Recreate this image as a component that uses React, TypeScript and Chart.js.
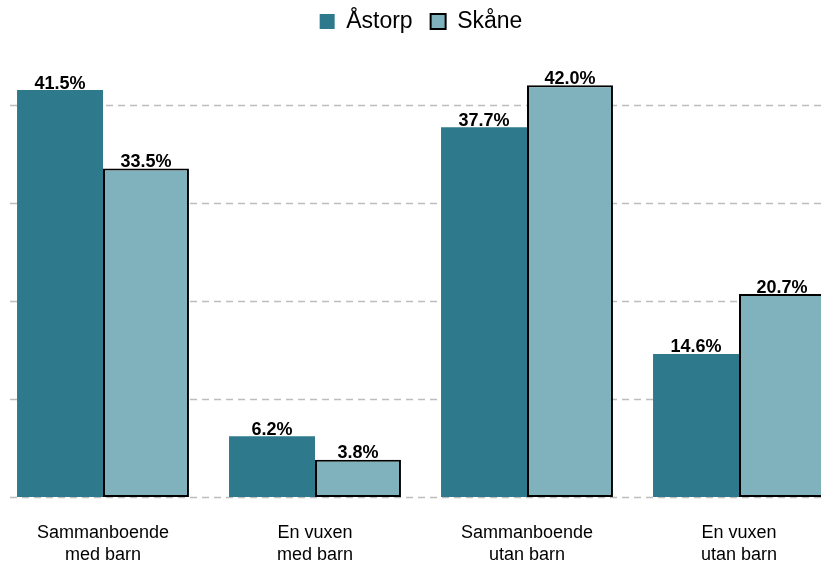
import React, { useEffect, useRef } from "react";
import { Chart, registerables } from "chart.js";

Chart.register(...registerables);

const categories: string[][] = [
  ["Sammanboende", "med barn"],
  ["En vuxen", "med barn"],
  ["Sammanboende", "utan barn"],
  ["En vuxen", "utan barn"],
];
const astorp = [41.5, 6.2, 37.7, 14.6];
const skane = [33.5, 3.8, 42.0, 20.7];
const seriesNames = ["Åstorp", "Skåne"];
const gridValues = [0, 10, 20, 30, 40];

const FONT = "'Liberation Sans', Arial, sans-serif";

const gridPlugin = {
  id: "customGrid",
  beforeDatasetsDraw(chart: any) {
    const { ctx } = chart;
    const y = chart.scales.y;
    ctx.save();
    ctx.strokeStyle = "#bdbdbd";
    ctx.lineWidth = 1.5;
    ctx.setLineDash([7, 5]);
    gridValues.forEach((v) => {
      const py = Math.round(y.getPixelForValue(v)) + 0.5;
      ctx.beginPath();
      ctx.moveTo(13, py);
      ctx.lineTo(chart.width, py);
      ctx.stroke();
    });
    ctx.restore();
  },
};

const labelPlugin = {
  id: "barLabels",
  afterDatasetsDraw(chart: any) {
    const { ctx } = chart;
    ctx.save();
    ctx.font = `bold 18px ${FONT}`;
    ctx.fillStyle = "#000";
    ctx.textAlign = "center";
    ctx.textBaseline = "alphabetic";
    chart.data.datasets.forEach((ds: any, di: number) => {
      const meta = chart.getDatasetMeta(di);
      meta.data.forEach((bar: any, i: number) => {
        ctx.fillText(ds.data[i].toFixed(1) + "%", bar.x, bar.y - 1.5);
      });
    });
    ctx.restore();
  },
};

export default function App() {
  const ref = useRef<HTMLCanvasElement>(null);
  useEffect(() => {
    document.body.style.margin = "0";
    document.body.style.overflow = "hidden";
    document.documentElement.style.overflow = "hidden";
    const chart = new Chart(ref.current!, {
      type: "bar",
      data: {
        labels: categories,
        datasets: [
          {
            label: seriesNames[0],
            data: astorp,
            backgroundColor: "#2e7a8c",
            borderWidth: 0,
            borderColor: "#2e7a8c",
          },
          {
            label: seriesNames[1],
            data: skane,
            backgroundColor: "#7fb2bc",
            borderColor: "#000",
            borderWidth: 2,
            borderSkipped: false,
          },
        ],
      },
      options: {
        animation: false,
        responsive: true,
        maintainAspectRatio: false,
        layout: { padding: { top: -8, left: 0, right: 0, bottom: 0 } },
        datasets: { bar: { categoryPercentage: 0.811, barPercentage: 1 } },
        plugins: {
          legend: {
            position: "top",
            labels: {
              font: { family: FONT, size: 23 },
              color: "#000",
              boxWidth: 15,
              boxHeight: 15,
              padding: 18,
            },
          },
          tooltip: { enabled: false },
        },
        scales: {
          x: {
            grid: { display: false, drawTicks: false },
            border: { display: false },
            ticks: {
              font: { family: FONT, size: 18, lineHeight: 1.22 },
              color: "#000",
              padding: 25,
              maxRotation: 0,
              autoSkip: false,
            },
          },
          y: {
            display: false,
            min: 0,
            max: 46.3,
          },
        },
      },
      plugins: [gridPlugin, labelPlugin],
    });
    return () => chart.destroy();
  }, []);
  return (
    <div style={{ position: "fixed", left: -3, top: 0, width: 848, height: 591 }}>
      <canvas ref={ref} />
    </div>
  );
}
